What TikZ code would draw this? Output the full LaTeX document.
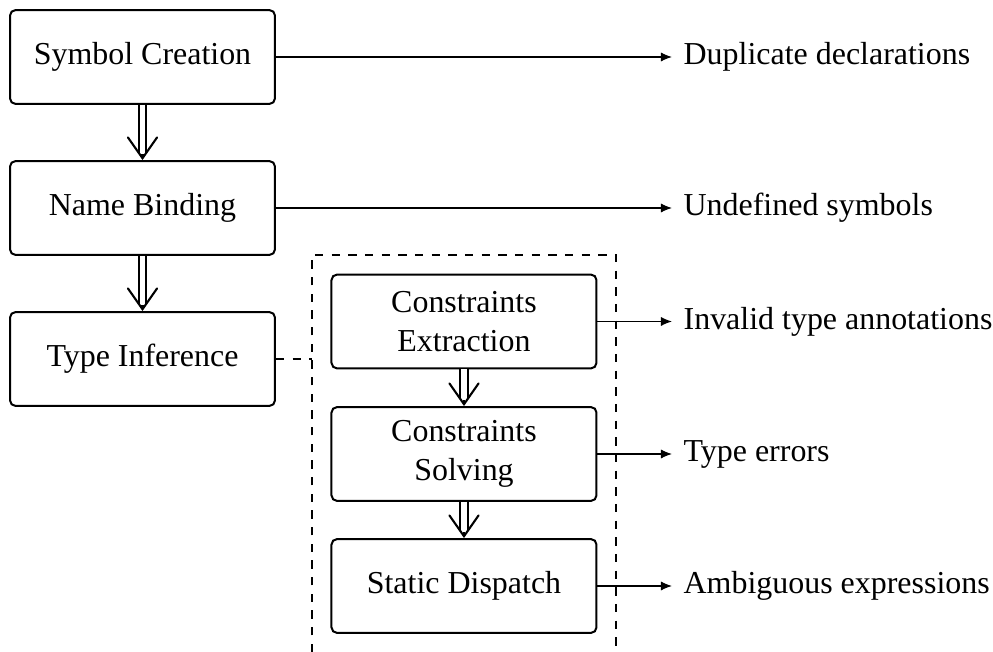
\documentclass[tikz,border=0pt]{standalone}
\usepackage{fontspec}
\setmainfont{Liberation Serif}
\usetikzlibrary{arrows.meta,calc}

\tikzset{
  phase/.style={draw, line width=0.72pt, rounded corners=2pt,
    minimum width=95.4pt, minimum height=33.8pt, align=center,
    inner sep=0pt, font=\fontsize{11.5}{13.9}\selectfont},
  errlabel/.style={anchor=west, inner xsep=4pt, inner ysep=0pt,
    font=\fontsize{11.5}{13.9}\selectfont},
  flowline/.style={double, line width=0.7pt, double distance=1.9pt,
    shorten >=2.5pt},
  flowtip/.style={line width=0.75pt,
    -{Straight Barb[length=7.5pt,width=10.5pt,line cap=round,line join=miter]}},
  report/.style={line width=0.4pt, -{Latex[length=4pt,width=3.3pt]}},
  group/.style={dashed, line width=0.4pt}
}

% double-lined flow arrow from the bottom of #1 to the top of #2
\newcommand\flowarrow[2]{%
  \draw[flowline] (#1.south) -- (#2.north);
  \draw[flowtip] ($(#2.north)+(0,-6)$) -- (#2.north);
}

\begin{document}
\begin{tikzpicture}[x=0.36pt, y=-0.36pt]
  \useasboundingbox (0,0) rectangle (993,652);

  % main pipeline
  \node[phase] (sym)  at (142.5,57)  {Symbol Creation};
  \node[phase] (bind) at (142.5,208) {Name Binding};
  \node[phase] (inf)  at (142.5,359) {Type Inference};

  % type inference sub-steps
  \node[phase] (ext)  at (464,321.5) {Constraints\\Extraction};
  \node[phase] (solv) at (464,454)   {Constraints\\Solving};
  \node[phase] (disp) at (464,586)   {Static Dispatch};

  % dashed frame around the sub-steps (open at the bottom)
  \coordinate (gBL) at (312,652);
  \coordinate (gTL) at (312,255);
  \coordinate (gTR) at (616,255);
  \coordinate (gBR) at (616,652);
  \draw[group] (gBL) -- (gTL) -- (gTR) -- (gBR);
  \draw[group] (inf.east) -- (inf.east -| gTL);

  % reported errors
  \node[errlabel] (e1) at (672,57)    {Duplicate declarations};
  \node[errlabel] (e2) at (672,208)   {Undefined symbols};
  \node[errlabel] (e3) at (672,321.5) {Invalid type annotations};
  \node[errlabel] (e4) at (672,454)   {Type errors};
  \node[errlabel] (e5) at (672,586)   {Ambiguous expressions};

  % flow between phases
  \flowarrow{sym}{bind}
  \flowarrow{bind}{inf}
  \flowarrow{ext}{solv}
  \flowarrow{solv}{disp}

  % phase -> error arrows
  \draw[report] (sym.east)  -- (sym.east -| e1.west);
  \draw[report] (bind.east) -- (bind.east -| e2.west);
  \draw[report] (ext.east)  -- (ext.east -| e3.west);
  \draw[report] (solv.east) -- (solv.east -| e4.west);
  \draw[report] (disp.east) -- (disp.east -| e5.west);
\end{tikzpicture}
\end{document}
